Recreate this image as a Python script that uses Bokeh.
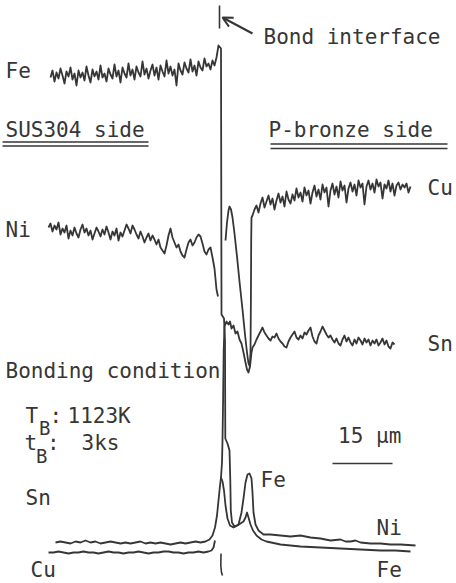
import numpy as np
from bokeh.plotting import figure
from bokeh.models import Range1d, ColumnDataSource, Arrow, OpenHead
from bokeh.core.properties import value
from bokeh.embed import file_html
from bokeh.resources import INLINE

# Position along the scan in micrometres (0 = bond interface); intensity in arbitrary units.

# Fe signal on the SUS304 side (sampled every 0.5 um from -42.5 um)
FE_SUS_X0, FE_SUS_DX = -42.5, 0.5
FE_SUS_V = [498, 505, 494, 503, 497, 507, 500, 492, 504, 499, 508, 496, 502, 490, 505, 498,
            503, 495, 509, 500, 493, 506, 499, 504, 496, 510, 498, 502, 494, 507, 501, 497,
            511, 499, 505, 493, 508, 502, 498, 512, 500, 506, 496, 509, 503, 499, 514, 501,
            507, 497, 505, 511, 500, 508, 496, 510, 504, 499, 515, 502, 509, 500, 506, 490,
            512, 505, 501, 513, 507, 503, 516, 504, 510, 500, 514, 508, 505, 517, 509, 512,
            506, 515, 510, 518]
# Fe drop at the interface, Fe peak in reaction layer, low level on bronze side
FE_IF_X = [-0.5, 0.125, 0.25, 0.875, 1.125, 1.2, 1.75, 2.25, 2.45, 2.575, 2.875, 3.5, 4.5,
           5.25, 5.75, 6.25, 6.75, 7.25, 7.75, 8.0, 8.25, 8.75, 9.5, 10.75,
           12.5, 15, 17.5, 20, 22.5, 25, 27.5, 30, 31.25, 32.5, 33.75, 35, 37.5, 40, 42.5, 45, 48.75]
FE_IF_V = [530, 527, 261, 257, 235, 137, 132, 125, 95, 65, 53, 49, 51,
           63, 77, 93, 101, 102, 97, 83, 63, 51, 45, 41,
           41, 40, 39, 40, 38, 37, 35, 36, 34, 34, 35, 33, 32, 32, 31, 31, 30]

# Ni signal on the SUS304 side (every 0.5 um from -43 um)
NI_SUS_X0, NI_SUS_DX = -43.0, 0.5
NI_SUS_V = [348, 352, 344, 350, 346, 353, 341, 347, 343, 350, 337, 345, 340, 348, 342, 338,
            346, 351, 343, 347, 340, 345, 336, 342, 348, 344, 339,
            346, 341, 349, 343, 336, 344, 340, 347, 335, 343, 339, 345, 351, 347, 342, 350,
            346, 341, 337, 344, 339, 333, 338, 342, 335,
            340, 336, 331, 336, 328, 325, 322, 330, 340, 347, 338, 333, 328, 331, 324, 320,
            318, 326, 333, 336, 330, 333, 338, 341, 339, 332, 324, 321, 326, 328, 318]
NI_IF_X = [-1.5, -1.0, -0.625]
NI_IF_V = [307, 286, 279]

# Sn: low on SUS side (every 1.25 um from -41.25 um), rise at interface, dip at Fe-rich layer
SN_SUS_X0, SN_SUS_DX = -41.25, 1.25
SN_SUS_V = [33, 34, 33, 32, 34, 33, 35, 33, 34, 32, 33, 34, 33, 32, 33, 32, 33, 34, 32, 33,
            32, 33, 32, 31, 32, 33, 32, 33, 34, 33, 34]
SN_IF_X = [-2.75, -2.0, -1.375, -0.875, -0.5, -0.125, 0.125, 0.375, 0.5, 0.65, 0.8, 1.0, 1.5,
           2.0, 2.375, 2.75, 3.25, 3.75, 4.25, 4.75, 5.25, 5.75, 6.25, 6.625, 7.0, 7.375, 7.75]
SN_IF_V = [36, 40, 48, 60, 75, 90, 98, 113, 135, 175, 225, 249, 254,
           251, 254, 247, 250, 242, 244, 236, 232, 223, 213, 206, 203, 209, 223]
SN_BR_X0, SN_BR_DX = 8.0, 0.5
SN_BR_V = [228, 231, 236, 240, 244, 248, 243, 240, 237, 235, 239, 238, 242, 237, 234, 232,
           229, 228, 234, 238, 241, 244, 238, 236, 240, 237, 243, 241, 245, 248, 239, 234,
           232, 240, 244, 249, 245, 241, 238, 240, 236, 233, 237, 232, 230, 236, 240, 234,
           238, 233, 230, 236, 232, 238, 235, 231, 237, 233, 236, 230, 235, 232, 236, 230,
           233, 237, 231, 235, 229, 227, 233, 231]

# Cu: low on SUS side (every 1.25 um from -43 um), peak + dip at interface, high on bronze side
CU_SUS_X0, CU_SUS_DX = -43.0, 1.25
CU_SUS_V = [23, 23, 24, 23, 22, 23, 23, 24, 23, 23, 22, 23, 24, 23, 23, 22, 23, 23, 24, 23,
            22, 23, 23, 24, 24, 23, 23, 22, 23, 23, 24, 23, 24]
CU_UP_X = [-2.25, -1.75, -1.375]
CU_UP_V = [25, 28, 35]
CU_IF_X = [1.25, 1.625, 2.0, 2.25, 2.625, 3.0, 3.5, 4.125, 4.75, 5.5, 6.125, 6.625, 7.0,
           7.325, 7.5, 7.6, 7.675, 7.75]
CU_IF_V = [335, 353, 365, 369, 366, 358, 342, 319, 294, 266, 241, 223, 212,
           209, 223, 275, 335, 358]
CU_BR_X0, CU_BR_DX = 8.0, 0.5
CU_BR_V = [360, 366, 370, 363, 372, 378, 368, 374, 380, 371, 377, 366, 375, 382, 373, 379,
           369, 384, 376, 372, 381, 375, 387, 378, 383, 374, 388, 380, 385, 372, 383, 390,
           379, 386, 376, 391, 383, 388, 369, 385, 392, 381, 389, 378, 394, 385, 390, 373,
           387, 393, 384, 391, 380, 395, 388, 392, 371, 389, 395, 386, 392, 383, 396, 389,
           393, 377, 391, 387, 395, 384, 392, 380, 390, 393, 386, 391, 388, 392, 383, 389]

# Lower trace of the reaction layer continuing into the bronze-side Fe level
FE_LOW_X = [0.125, 0.5, 0.875, 1.25, 1.75, 2.375, 3.25, 4.25, 5.0, 5.75, 6.25, 6.625, 7.0,
            7.5, 8.125, 9.0, 10.25, 11.5, 15, 20, 25, 30, 35, 40, 43.75, 47.5]
FE_LOW_V = [98, 94, 85, 70, 57, 50, 48, 50, 52, 54, 58, 63, 58,
            51, 45, 40, 36, 34, 31, 29, 28, 27, 26, 25, 25, 24]

# Scale bar (um)
SCALE_X0, SCALE_LEN, SCALE_V = 28.0, 15.0, 112

# Labels
LABEL_TEXT = ["Bond interface", "Fe", "SUS304 side", "P-bronze side", "Cu", "Ni", "Sn",
              "Bonding condition", "T", ":", "1123K", "t", ":", "3ks", "15 μm", "Fe",
              "Sn", "Ni", "Cu", "Fe"]
LABEL_X = [10.75, -53.75, -53.75, 12.0, 51.75, -53.75, 51.75, -53.75, -48.75, -42.75, -38.25,
           -49.0, -43.4, -34.75, 29.4, 10.0, -48.75, 39.0, -47.5, 39.0]
LABEL_V = [531, 497, 438, 438, 380, 338, 224, 197, 152, 152, 152, 125, 125, 125, 132, 88,
           70, 40, -2, -2]
SUB_TEXT = ["B", "B"]
SUB_X = [-45.4, -46.1]
SUB_V = [140, 112]

INK = "#363636"
LW = 1.8
TEXT_DY = 8  # compensation for the renderer's baseline placement (in intensity units = px)


def series(x0, dx, vals):
    return [x0 + dx * i for i in range(len(vals))]


p = figure(width=456, height=583, x_range=Range1d(-55, 59), y_range=Range1d(-8, 575),
           output_backend="svg", toolbar_location=None, x_axis_type=None, y_axis_type=None,
           min_border=0)
p.outline_line_color = None
p.background_fill_color = "white"
p.border_fill_color = "white"

# Fe
p.line(series(FE_SUS_X0, FE_SUS_DX, FE_SUS_V) + FE_IF_X, FE_SUS_V + FE_IF_V,
       line_color=INK, line_width=LW, line_join="round")
# Ni
p.line(series(NI_SUS_X0, NI_SUS_DX, NI_SUS_V) + NI_IF_X, NI_SUS_V + NI_IF_V,
       line_color=INK, line_width=LW, line_join="round")
# Sn
p.line(series(SN_SUS_X0, SN_SUS_DX, SN_SUS_V) + SN_IF_X + series(SN_BR_X0, SN_BR_DX, SN_BR_V),
       SN_SUS_V + SN_IF_V + SN_BR_V, line_color=INK, line_width=LW, line_join="round")
# Cu (SUS side baseline)
p.line(series(CU_SUS_X0, CU_SUS_DX, CU_SUS_V) + CU_UP_X, CU_SUS_V + CU_UP_V,
       line_color=INK, line_width=LW, line_join="round")
# Cu (interface + bronze side)
p.line(CU_IF_X + series(CU_BR_X0, CU_BR_DX, CU_BR_V), CU_IF_V + CU_BR_V,
       line_color=INK, line_width=LW, line_join="round")
# lower trace
p.line(FE_LOW_X, FE_LOW_V, line_color=INK, line_width=LW, line_join="round")

# interface markers
p.line([-0.25, -0.25], [570, 547], line_color=INK, line_width=1.6)
p.line([0.125, 0.075, 0.25, 0.5], [22, 10, 3, 0], line_color=INK, line_width=1.6)
p.add_layout(Arrow(end=OpenHead(size=10, line_color=INK, line_width=2),
                   x_start=8.0, y_start=542, x_end=0.5, y_end=558,
                   line_color=INK, line_width=2))

# double underlines
p.segment(x0=[-54.5, -54.5, 12.5, 12.5], y0=[433.5, 429.5, 431.5, 427.0],
          x1=[-18, -18, 56.75, 56.75], y1=[433.5, 429.5, 431.5, 427.0],
          line_color=INK, line_width=1.4)

# scale bar
p.segment(x0=[SCALE_X0], y0=[SCALE_V], x1=[SCALE_X0 + SCALE_LEN], y1=[SCALE_V],
          line_color=INK, line_width=1.6)

src = ColumnDataSource(dict(x=LABEL_X, y=[v + TEXT_DY for v in LABEL_V], t=LABEL_TEXT))
p.text(x="x", y="y", text="t", source=src, text_font=value("DejaVu Sans Mono"),
       text_font_size="21px", text_color=INK, text_align="left", text_baseline="alphabetic")
src2 = ColumnDataSource(dict(x=SUB_X, y=[v + TEXT_DY for v in SUB_V], t=SUB_TEXT))
p.text(x="x", y="y", text="t", source=src2, text_font=value("DejaVu Sans Mono"),
       text_font_size="19px", text_color=INK, text_align="left", text_baseline="alphabetic")

open("out.html", "w").write(file_html(p, INLINE))
